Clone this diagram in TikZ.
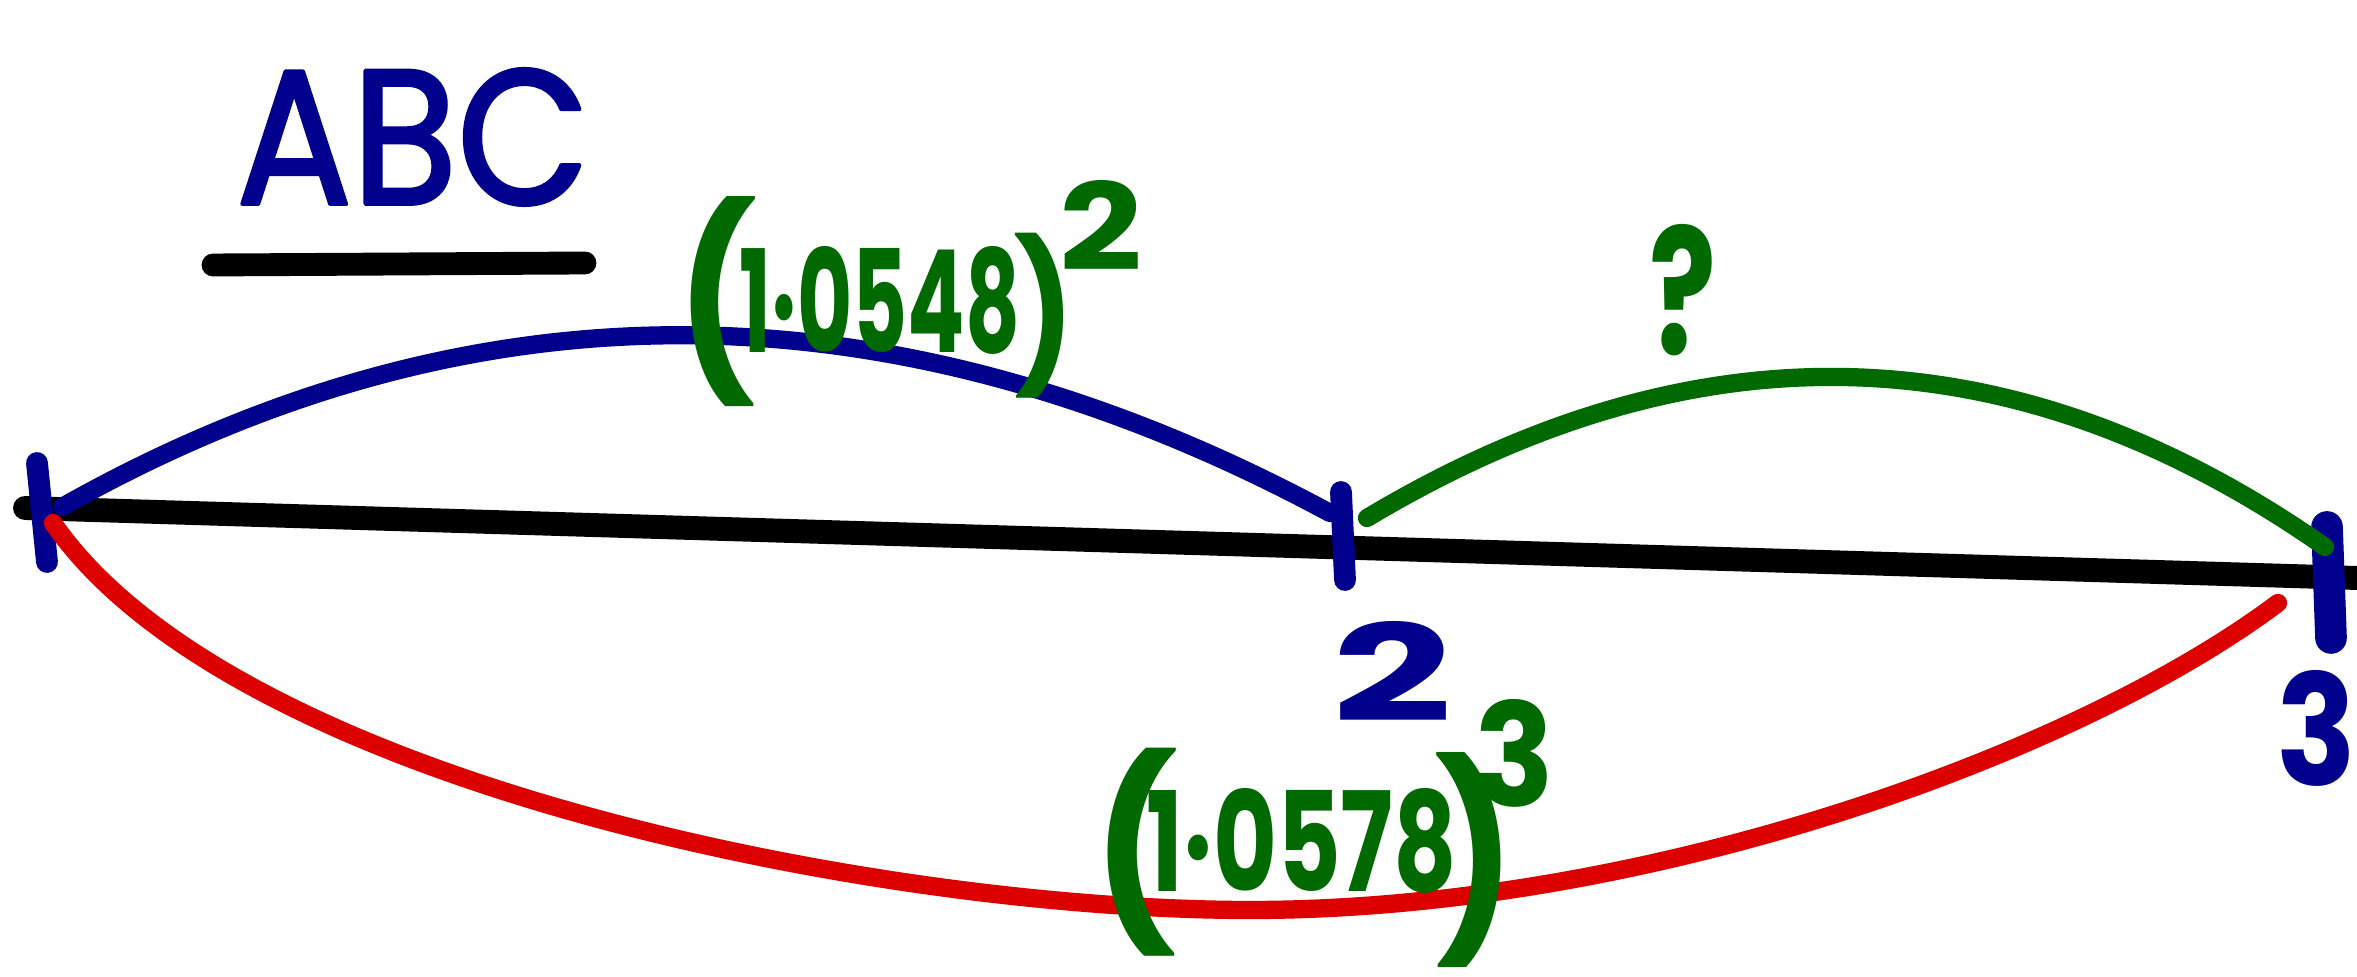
\documentclass[tikz,border=0pt]{standalone}
\usepackage{fontspec}
\setmainfont{Poppins}
\definecolor{inkblue}{RGB}{0,0,140}
\definecolor{inkgreen}{RGB}{0,105,0}
\definecolor{inkred}{RGB}{220,0,0}
\newcommand\inkfit[3]{\resizebox{#1cm}{#2cm}{#3}}
\newcommand\inkfitall[3]{\resizebox*{#1cm}{#2cm}{#3}}
\begin{document}
\begin{tikzpicture}[x=0.01cm,y=-0.01cm,line cap=round,line join=round,
  blackstroke/.style={line width=6.8pt,black},
  arcstroke/.style={line width=5.2pt},
  tickstroke/.style={line width=6.2pt,inkblue},
  lbl/.style={inner sep=0pt,outer sep=0pt,font=\bfseries,anchor=center},
  bluetext/.style={lbl,text=inkblue},
  greentext/.style={lbl,text=inkgreen}]
\useasboundingbox[fill=white] (0,0) rectangle (2357,977);

% title
\node[bluetext,font=\mdseries\addfontfeature{FakeBold=2}] (title) at (413,137) {\inkfit{3.53}{1.35}{ABC}};
\coordinate (uL) at (213,265);
\coordinate (uR) at (585,263);
\draw[blackstroke,line width=6.5pt] (uL) -- (uR);

% number line
\coordinate (L0) at (25,508);
\coordinate (L1) at (2390,579);
\draw[blackstroke] (L0) -- (L1);

% ticks
\coordinate (a1) at (37,463);  \coordinate (a2) at (47,562);
\coordinate (b1) at (1341,492); \coordinate (b2) at (1345,580);
\coordinate (c1) at (2327,527); \coordinate (c2) at (2331,638);
\draw[tickstroke] (a1) -- (a2);
\draw[tickstroke] (b1) -- (b2);
\draw[tickstroke,line width=9pt] (c1) -- (c2);

% arcs
\coordinate (bs) at (62,507);   \coordinate (be) at (1330,513);
\coordinate (gs) at (1367,518); \coordinate (ge) at (2325,547);
\coordinate (rs) at (53,523);   \coordinate (rb) at (1250,910); \coordinate (re) at (2278,603);
\draw[arcstroke,inkblue] (bs) .. controls (471,276) and (894,278) .. (be);
\draw[arcstroke,inkgreen] (gs) .. controls (1696,321) and (2015,330) .. (ge);
\draw[arcstroke,inkred] (rs) .. controls (233,783) and (880,910) .. (rb)
                             .. controls (1650,910) and (2078,753) .. (re);

% upper label
\node[greentext] (up) at (880,300) {\inkfit{2.8}{1.06}{1·0548}};
\node[greentext] (upL) at (717,302) {\inkfitall{0.8}{2.1}{(}};
\node[greentext] (upR) at (1045,316) {\inkfitall{0.6}{1.65}{)}};
\node[greentext] (upE) at (1101,225) {\inkfit{0.83}{0.9}{2}};

% question mark
\node[greentext] (q) at (1683,290) {\inkfit{0.67}{1.3}{?}};

% tick labels
\node[bluetext] (two) at (1393,671) {\inkfit{1.2}{1.0}{2}};
\node[bluetext] (three) at (2317,728) {\inkfit{0.8}{1.15}{3}};

% lower label
\node[greentext] (lo) at (1302,841) {\inkfit{3.1}{1.03}{1·0578}};
\node[greentext] (loL) at (1135,852) {\inkfitall{0.85}{2.08}{(}};
\node[greentext] (loR) at (1476,860) {\inkfitall{0.8}{2.15}{)}};
\node[greentext] (loE) at (1515,753) {\inkfit{0.8}{1.07}{3}};
\end{tikzpicture}
\end{document}
